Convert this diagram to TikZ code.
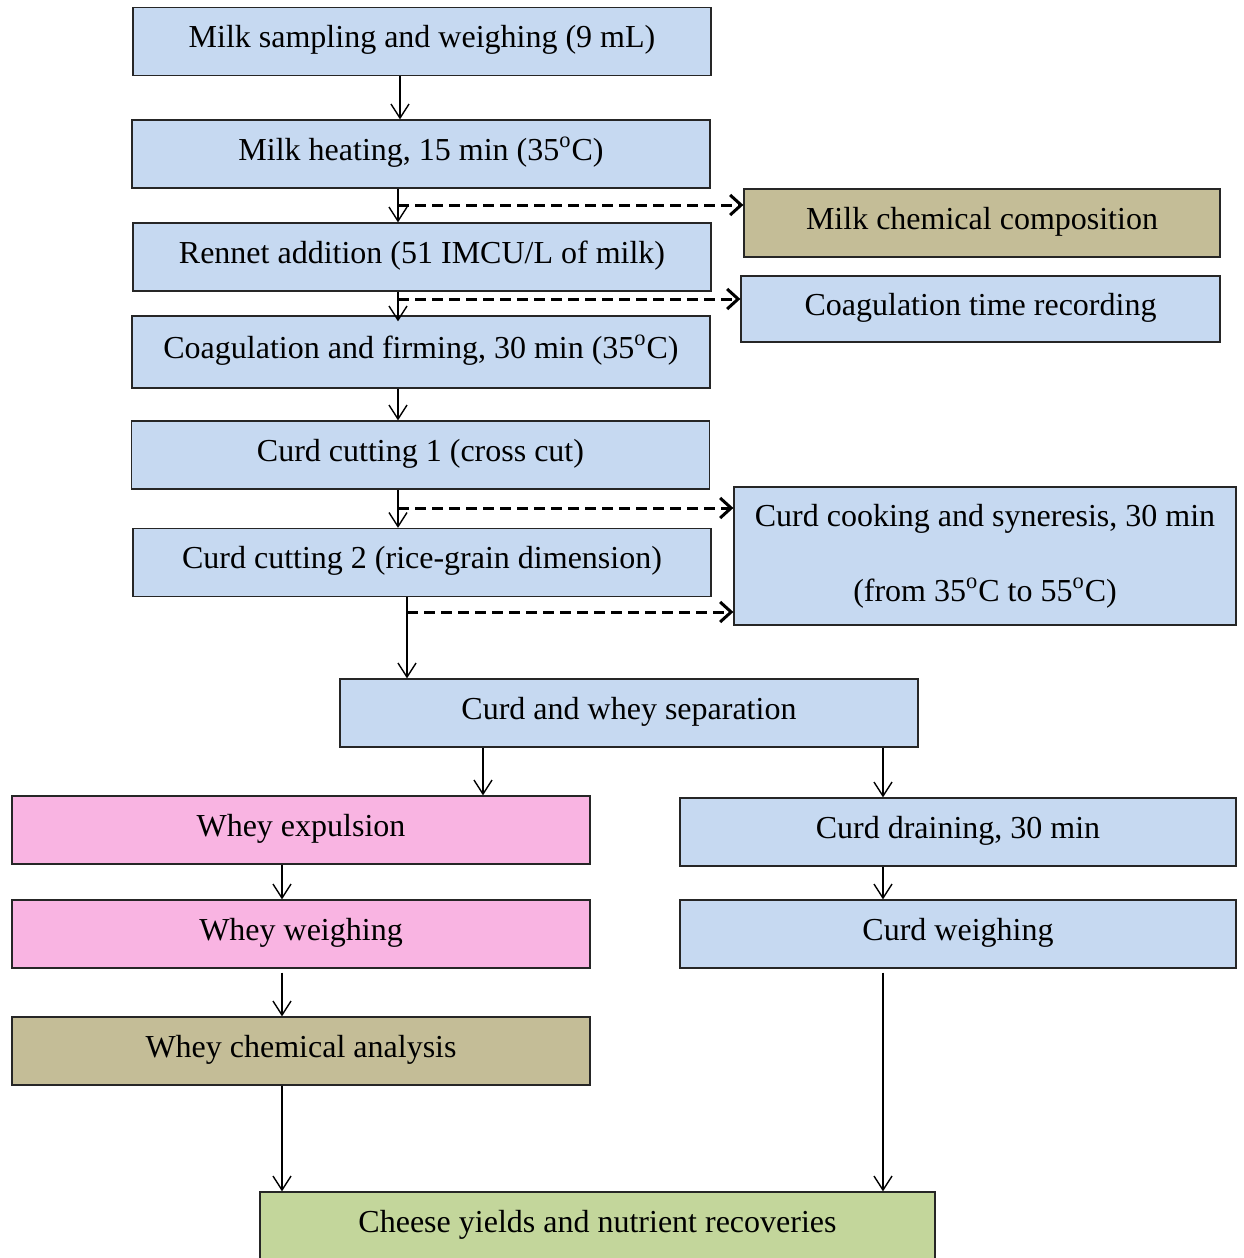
\documentclass[tikz,border=0pt]{standalone}
\usepackage{fontspec}
\setmainfont{Liberation Serif}
\usetikzlibrary{arrows.meta}
\definecolor{stepblue}{RGB}{198,217,241}
\definecolor{steppink}{RGB}{249,180,226}
\definecolor{steptan}{RGB}{196,189,151}
\definecolor{stepgreen}{RGB}{195,214,155}
\tikzset{
  stepbox/.style={draw=black!85, line width=0.65pt, fill=stepblue, inner sep=0pt,
    minimum width=289pt, minimum height=34pt, text height=10.5pt, text depth=4.5pt,
    font=\fontsize{16}{18.5}\selectfont, align=center},
  flow/.style={draw=black, line width=0.7pt, -{Straight Barb[length=7pt,width=9pt,line width=0.7pt]}},
  sideflow/.style={draw=black, line width=1.5pt, dash pattern=on 5.5pt off 3pt,
    -{Straight Barb[length=5.5pt,width=10pt,line width=1.5pt]}},
}
\newcommand{\dg}{\textsuperscript{o}}
\begin{document}
\begin{tikzpicture}[x=0.5pt,y=-0.5pt]
\useasboundingbox (0,0) rectangle (1243,1258);
\clip (0,0) rectangle (1243,1258);

% main chain
\node[stepbox] (b1) at (422,41.5) {Milk sampling and weighing (9 mL)};
\node[stepbox] (b2) at (421,154) {Milk heating, 15 min (35\dg C)};
\node[stepbox] (b3) at (422,257) {Rennet addition (51 IMCU/L of milk)};
\node[stepbox, minimum height=36pt] (b4) at (421,352) {Coagulation and firming, 30 min (35\dg C)};
\node[stepbox] (b5) at (420.5,455) {Curd cutting 1 (cross cut)};
\node[stepbox] (b6) at (422,562.5) {Curd cutting 2 (rice-grain dimension)};

% side measurements
\node[stepbox, fill=steptan, minimum width=238pt] (b7) at (982,223) {Milk chemical composition};
\node[stepbox, minimum width=239.5pt, minimum height=33pt] (b8) at (980.5,309) {Coagulation time recording};
\node[stepbox, minimum width=251pt, minimum height=69pt, text height=, text depth=] (b9) at (985,556)
  {Curd cooking and syneresis, 30 min\\[19pt](from 35\dg C to 55\dg C)};

% separation and branches
\node[stepbox] (b10) at (629,713) {Curd and whey separation};
\node[stepbox, fill=steppink] (b11) at (301,830) {Whey expulsion};
\node[stepbox, fill=steppink] (b12) at (301,934) {Whey weighing};
\node[stepbox, fill=steptan] (b13) at (301,1051) {Whey chemical analysis};
\node[stepbox, minimum width=278pt] (b14) at (958,832) {Curd draining, 30 min};
\node[stepbox, minimum width=278pt] (b15) at (958,934) {Curd weighing};
\node[stepbox, fill=stepgreen, minimum width=337.5pt] (b16) at (597.5,1226) {Cheese yields and nutrient recoveries};

% vertical guide positions
\coordinate (xa) at (400,0);
\coordinate (xb) at (398,0);
\coordinate (xc) at (407,0);
\coordinate (xd) at (483,0);
\coordinate (xe) at (883,0);
\coordinate (xf) at (282,0);

% branch points of the dashed connectors
\coordinate (d1) at (398,205);
\coordinate (d2) at (398,299);
\coordinate (d3) at (398,508);
\coordinate (d4) at (407,612);

\draw[flow] (b1.south -| xa) -- (b2.north -| xa);
\draw[flow] (b2.south -| xb) -- (b3.north -| xb);
\draw[flow] (b3.south -| xb) -- ([yshift=-3pt]b4.north -| xb);
\draw[flow] (b4.south -| xb) -- (b5.north -| xb);
\draw[flow] (b5.south -| xb) -- (b6.north -| xb);
\draw[flow] (b6.south -| xc) -- (b10.north -| xc);
\draw[flow] (b10.south -| xd) -- (b11.north -| xd);
\draw[flow] (b10.south -| xe) -- (b14.north -| xe);
\draw[flow] (b11.south -| xf) -- (b12.north -| xf);
\draw[flow] ([yshift=-2pt]b12.south -| xf) -- (b13.north -| xf);
\draw[flow] (b13.south -| xf) -- (b16.north -| xf);
\draw[flow] (b14.south -| xe) -- (b15.north -| xe);
\draw[flow] ([yshift=-2pt]b15.south -| xe) -- (b16.north -| xe);

\draw[sideflow] (d1) -- (d1 -| b7.west);
\draw[sideflow] (d2) -- (d2 -| b8.west);
\draw[sideflow] (d3) -- (d3 -| b9.west);
\draw[sideflow] (d4) -- (d4 -| b9.west);
\end{tikzpicture}
\end{document}
